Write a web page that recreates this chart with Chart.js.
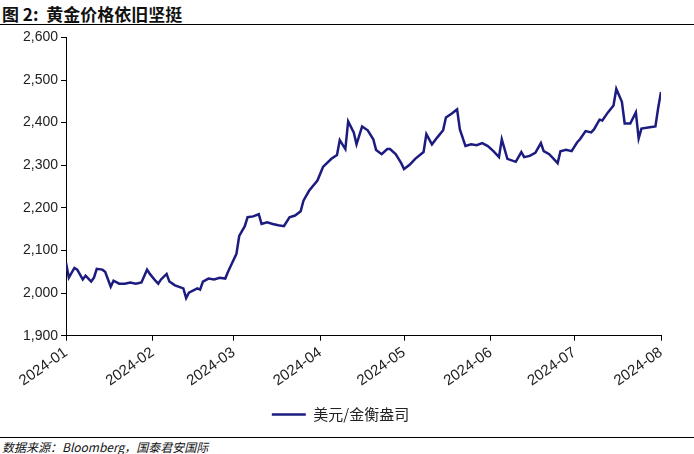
<!DOCTYPE html>
<html><head><meta charset="utf-8">
<script src="https://cdn.jsdelivr.net/npm/chart.js@4"></script>
<style>
body{margin:0;width:694px;height:454px;background:#fff;position:relative;overflow:hidden;font-family:"Liberation Sans",Arial,sans-serif}
#title{position:absolute;left:2px;top:1px;font:bold 17px "Noto Sans CJK SC",sans-serif;color:#111;white-space:pre}
#l1{position:absolute;left:0;top:24px;width:694px;border-top:1.5px solid #000}
#l2{position:absolute;left:0;top:437px;width:694px;border-top:1px solid #000}
#src{position:absolute;left:2px;top:438px;font:italic 12px "Noto Sans CJK SC","Liberation Sans",sans-serif;color:#111}
#wrap{position:absolute;left:0;top:26px;width:694px;height:410px}
</style></head><body>
<div id="title">图 2:  黄金价格依旧坚挺</div>
<div id="l1"></div>
<div id="wrap"><canvas id="c"></canvas></div>
<div id="l2"></div>
<div id="src">数据来源：Bloomberg，国泰君安国际</div>
<script>
// jours depuis le 2024-01-01
const jours = [0,1,3,4,6,7,9,10,11,13,14,16,17,19,21,23,25,27,29,30,32,33,34,36,37,39,42,43,44,47,48,49,51,53,55,57,58,59,61,62,64,65,67,69,70,72,74,76,78,80,82,84,85,87,90,92,95,97,98,100,101,103,104,106,108,110,111,113,115,116,118,120,121,123,125,128,129,131,133,135,136,138,140,141,143,145,147,149,151,153,155,156,158,161,163,164,166,168,170,171,173,176,177,179,181,183,184,186,188,189,191,192,194,196,197,199,200,202,204,205,206,209,211,212,213];
const prix = [2071,2036,2059,2055,2032,2041,2027,2036,2057,2055,2050,2015,2029,2022,2022,2025,2022,2025,2055,2045,2029,2022,2032,2045,2027,2018,2011,1988,2001,2011,2008,2027,2034,2032,2036,2034,2050,2064,2092,2134,2157,2178,2180,2185,2162,2166,2162,2159,2157,2178,2182,2192,2217,2240,2264,2296,2315,2324,2359,2338,2403,2377,2349,2391,2382,2361,2336,2326,2338,2338,2326,2305,2291,2301,2315,2331,2373,2349,2366,2382,2412,2421,2431,2384,2345,2349,2347,2352,2345,2333,2319,2361,2315,2308,2331,2319,2322,2329,2352,2333,2326,2305,2333,2336,2333,2354,2361,2380,2377,2384,2407,2405,2424,2440,2479,2449,2398,2398,2424,2363,2386,2389,2391,2435,2472];
const moisJours = [0,31,60,91,121,152,182,213];
const moisLabels = ["2024-01","2024-02","2024-03","2024-04","2024-05","2024-06","2024-07","2024-08"];
const yTicks = [1900,2000,2100,2200,2300,2400,2500,2600];

const n = Math.min(jours.length, prix.length);
const points = [];
for (let i = 0; i < n; i++) points.push({x: jours[i], y: prix[i]});

Chart.defaults.font.family = '"Liberation Sans", Arial, sans-serif';
Chart.defaults.color = '#222';

new Chart(document.getElementById("c"), {
  type: 'line',
  data: {
    datasets: [{
      label: "美元/金衡盎司",
      data: points,
      borderColor: "#1c1c80",
      backgroundColor: "#1c1c80",
      borderWidth: 2.5,
      pointRadius: 0,
      tension: 0
    }]
  },
  options: {
    responsive: true,
    maintainAspectRatio: false,
    animation: false,
    layout: { padding: { left: 20, right: 33, top: 4, bottom: 4 } },
    plugins: {
      tooltip: { enabled: false },
      legend: {
        position: 'bottom',
        labels: {
          usePointStyle: true, pointStyle: 'line', pointStyleWidth: 34,
          font: { size: 15, family: '"Noto Sans CJK SC", sans-serif' }, color: '#222', padding: 14
        }
      }
    },
    scales: {
      x: {
        type: 'linear', min: 0, max: 213,
        afterBuildTicks: s => { s.ticks = moisJours.map(v => ({value: v})); },
        ticks: {
          callback: v => moisLabels[moisJours.indexOf(v)],
          maxRotation: 35, minRotation: 35, autoSkip: false,
          font: { size: 15 }, color: '#222'
        },
        grid: { drawOnChartArea: false, tickLength: 5, color: '#000' },
        border: { color: '#000', width: 1 }
      },
      y: {
        min: 1900, max: 2600,
        afterBuildTicks: s => { s.ticks = yTicks.map(v => ({value: v})); },
        ticks: { callback: v => v.toLocaleString('en-US'), font: { size: 14 }, color: '#222' },
        grid: { drawOnChartArea: false, tickLength: 5, color: '#000' },
        border: { color: '#000', width: 1 }
      }
    }
  }
});
</script>
</body></html>
